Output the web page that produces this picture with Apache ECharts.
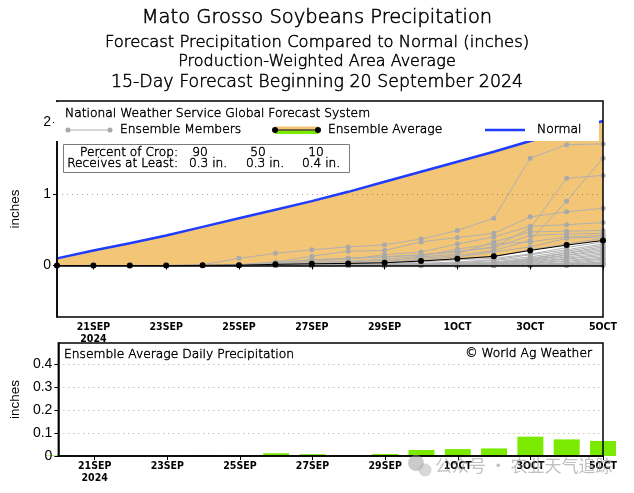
<!DOCTYPE html>
<html>
<head>
<meta charset="utf-8">
<script src="https://cdn.jsdelivr.net/npm/echarts@6/dist/echarts.min.js"></script>
<style>
html,body{margin:0;padding:0;background:#fff;}
#c{width:634px;height:493px;}
</style>
</head>
<body>
<div id="c"></div>
<script>
// ---------------- data ----------------
const dayIdx = [0,1,2,3,4,5,6,7,8,9,10,11,12,13,14,15];
const tickDays = [1,3,5,7,9,11,13,15];
const tickLabels = ['21SEP\n2024','23SEP','25SEP','27SEP','29SEP','1OCT','3OCT','5OCT'];
const topYTicks = [0,1,2];
const topYLabels = ['0','1','2'];
const botYTicks = [0,0.1,0.2,0.3,0.4];
const botYLabels = ['0','0.1','0.2','0.3','0.4'];

const normal = [0.10,0.21,0.31,0.42,0.54,0.66,0.78,0.90,1.03,1.17,1.31,1.45,1.59,1.74,1.88,2.02];
const ensAvg = [0,0,0,0,0.002,0.005,0.016,0.024,0.029,0.038,0.063,0.094,0.128,0.211,0.285,0.35];
const dailyAvg = [0.002,0,0,0,0.002,0.003,0.012,0.008,0.004,0.009,0.026,0.030,0.033,0.084,0.072,0.065];

const member01 = [0,0,0,0,0.01,0.10,0.17,0.22,0.26,0.29,0.37,0.49,0.66,1.50,1.69,1.70];
const member02 = [0,0,0,0,0,0.01,0.04,0.08,0.10,0.12,0.15,0.19,0.26,0.52,1.22,1.26];
const member03 = [0,0,0,0,0,0,0.01,0.03,0.05,0.07,0.10,0.14,0.21,0.35,0.90,1.50];
const member04 = [0,0,0,0,0,0.01,0.05,0.13,0.20,0.21,0.33,0.39,0.45,0.68,0.75,0.80];
const member05 = [0,0,0,0,0,0,0.02,0.06,0.09,0.15,0.19,0.30,0.40,0.55,0.57,0.60];
const member06 = [0,0,0,0,0,0,0,0.01,0.03,0.05,0.12,0.16,0.33,0.47,0.48,0.49];
const member07 = [0,0,0,0,0,0.01,0.04,0.08,0.10,0.12,0.15,0.20,0.25,0.42,0.44,0.45];
const member08 = [0,0,0,0,0,0,0.02,0.04,0.06,0.09,0.13,0.23,0.30,0.33,0.40,0.42];
const member09 = [0,0,0,0,0,0,0,0.01,0.02,0.04,0.08,0.12,0.19,0.26,0.38,0.40];
const member10 = [0,0,0,0,0,0,0.01,0.02,0.03,0.04,0.06,0.09,0.12,0.22,0.30,0.38];
const member11 = [0,0,0,0,0,0,0,0,0.01,0.02,0.05,0.08,0.10,0.16,0.25,0.33];
const member12 = [0,0,0,0,0,0,0,0.01,0.01,0.02,0.03,0.05,0.08,0.15,0.22,0.30];
const member13 = [0,0,0,0,0,0,0,0,0,0.01,0.02,0.04,0.07,0.12,0.20,0.28];
const member14 = [0,0,0,0,0,0,0,0,0.01,0.01,0.02,0.03,0.05,0.10,0.18,0.26];
const member15 = [0,0,0,0,0,0,0,0,0,0,0.01,0.02,0.04,0.09,0.17,0.24];
const member16 = [0,0,0,0,0,0,0,0,0,0.01,0.01,0.02,0.03,0.08,0.15,0.22];
const member17 = [0,0,0,0,0,0,0,0,0,0,0,0.01,0.03,0.07,0.14,0.20];
const member18 = [0,0,0,0,0,0,0,0,0,0,0.01,0.01,0.02,0.06,0.12,0.18];
const member19 = [0,0,0,0,0,0,0,0,0,0,0,0.01,0.02,0.05,0.10,0.16];
const member20 = [0,0,0,0,0,0,0,0,0,0,0,0,0.01,0.04,0.09,0.14];
const member21 = [0,0,0,0,0,0,0,0,0,0,0,0,0.01,0.03,0.07,0.12];
const member22 = [0,0,0,0,0,0,0,0,0,0,0,0,0,0.02,0.06,0.10];
const member23 = [0,0,0,0,0,0,0,0,0,0,0,0,0,0.01,0.04,0.09];
const member24 = [0,0,0,0,0,0,0,0,0,0,0,0,0,0.01,0.03,0.07];
const member25 = [0,0,0,0,0,0,0,0,0,0,0,0,0,0,0.02,0.05];
const member26 = [0,0,0,0,0,0,0,0,0,0,0,0,0,0.01,0.02,0.04];
const member27 = [0,0,0,0,0,0,0,0,0,0,0,0,0,0,0.01,0.03];
const member28 = [0,0,0,0,0,0,0,0,0,0,0,0,0,0,0.01,0.02];
const member29 = [0,0,0,0,0,0,0,0,0,0,0,0,0,0,0,0.01];
const member30 = [0,0,0,0,0,0,0,0,0,0,0,0,0,0,0,0];
const members = [member01,member02,member03,member04,member05,member06,member07,member08,member09,member10,
  member11,member12,member13,member14,member15,member16,member17,member18,member19,member20,
  member21,member22,member23,member24,member25,member26,member27,member28,member29,member30];

// ---------------- chart ----------------
const chart = echarts.init(document.getElementById('c'), null, {renderer:'canvas'});
const pairs = arr => dayIdx.map((d,i)=>[d,arr[i]]);
const FONT = 'DejaVu Sans';
const TW = '200';
const ORANGE = '#f3c677';
const GREEN = '#7aeb00';
const xLabelFmt = v => { const i = tickDays.indexOf(v); return i >= 0 ? tickLabels[i] : ''; };

const xAxisCommon = {
  type:'value', min:0, max:15, z:8,
  axisLine:{show:true, lineStyle:{color:'#000', width:1.5}},
  axisTick:{show:true, customValues:tickDays, length:4, lineStyle:{color:'#000', width:1}},
  axisLabel:{customValues:tickDays, formatter:xLabelFmt, color:'#000', fontFamily:'DejaVu Sans Condensed',
    fontWeight:'bold', fontSize:10.5, lineHeight:12, margin:4},
  splitLine:{show:false}
};

const series = [];
series.push({
  type:'line', name:'normalFill', xAxisIndex:0, yAxisIndex:0, data:pairs(normal),
  symbol:'none', lineStyle:{width:0, opacity:0}, areaStyle:{color:ORANGE, opacity:1, origin:'start'},
  silent:true, z:1, animation:false
});
series.push({
  type:'line', name:'avgFill', xAxisIndex:0, yAxisIndex:0, data:pairs(ensAvg),
  symbol:'none', lineStyle:{width:0, opacity:0}, areaStyle:{color:'#ffffff', opacity:1, origin:'start'},
  silent:true, z:1, animation:false,
  markLine:{silent:true, symbol:'none', label:{show:false}, animation:false,
    lineStyle:{color:'rgba(90,90,90,0.55)', type:[1,4], width:1},
    data:topYTicks.map(v=>({yAxis:v}))}
});
members.forEach((m,k)=>{
  series.push({
    type:'line', name:'m'+k, xAxisIndex:0, yAxisIndex:0, data:pairs(m),
    symbol:'circle', symbolSize:5, showSymbol:true,
    lineStyle:{color:'#b0b0b0', width:1}, itemStyle:{color:'#a9a9a9'}, silent:true, z:2, animation:false
  });
});
series.push({
  type:'line', name:'avg', xAxisIndex:0, yAxisIndex:0, data:pairs(ensAvg),
  symbol:'circle', symbolSize:6, showSymbol:true,
  lineStyle:{color:'#000', width:1}, itemStyle:{color:'#000'}, silent:true, z:4, animation:false
});
series.push({
  type:'line', name:'normal', xAxisIndex:0, yAxisIndex:0, data:pairs(normal),
  symbol:'none', lineStyle:{color:'#1f3cff', width:2.5}, silent:true, z:5, animation:false
});
series.push({
  type:'bar', name:'daily', xAxisIndex:1, yAxisIndex:1, data:pairs(dailyAvg),
  barWidth:26, itemStyle:{color:GREEN}, silent:true, z:2, animation:false,
  markLine:{silent:true, symbol:'none', label:{show:false}, animation:false,
    lineStyle:{color:'rgba(90,90,90,0.55)', type:[1,4], width:1},
    data:botYTicks.slice(1).map(v=>({yAxis:v}))}
});

const T = (x,y,text,size,align,sw) => ({
  type:'text', x:x, y:y, z:100,
  style:{text:text, fill:'#000', stroke:'#000', lineWidth:(sw===undefined?0.45:sw),
    font:`${TW} ${size}px "${FONT}"`, textAlign:align||'left', textVerticalAlign:'middle'}
});

const graphic = [
  T(317,18,'Mato Grosso Soybeans Precipitation',19.5,'center',0.55),
  T(317,43,'Forecast Precipitation Compared to Normal (inches)',16.4,'center',0.5),
  T(317,62,'Production-Weighted Area Average',16,'center',0.5),
  T(317,82,'15-Day Forecast Beginning 20 September 2024',17.4,'center',0.5),
  // legend box in top plot
  {type:'rect', z:90, shape:{x:54, y:102, width:545, height:39}, style:{fill:'#fff'}},
  T(65,114,'National Weather Service Global Forecast System',12.3,'left'),
  {type:'line', z:100, shape:{x1:68,y1:130,x2:110,y2:130}, style:{stroke:'#b0b0b0', lineWidth:1}},
  {type:'circle', z:100, shape:{cx:68,cy:130,r:2.5}, style:{fill:'#a9a9a9'}},
  {type:'circle', z:100, shape:{cx:110,cy:130,r:2.5}, style:{fill:'#a9a9a9'}},
  T(120,130,'Ensemble Members',12.3,'left'),
  {type:'rect', z:100, shape:{x:275,y:126.5,width:43,height:4}, style:{fill:ORANGE}},
  {type:'rect', z:100, shape:{x:275,y:130.5,width:43,height:3.5}, style:{fill:GREEN}},
  {type:'line', z:101, shape:{x1:275,y1:130,x2:318,y2:130}, style:{stroke:'#000', lineWidth:1.2}},
  {type:'circle', z:101, shape:{cx:275,cy:130,r:3}, style:{fill:'#000'}},
  {type:'circle', z:101, shape:{cx:318,cy:130,r:3}, style:{fill:'#000'}},
  T(328,130,'Ensemble Average',12.3,'left'),
  {type:'line', z:100, shape:{x1:485,y1:130,x2:525,y2:130}, style:{stroke:'#1f3cff', lineWidth:2.5}},
  T(537,130,'Normal',12.3,'left'),
  // percent box
  {type:'rect', z:95, shape:{x:63.5, y:144.5, width:286, height:28}, style:{fill:'#fff', stroke:'#7a7a7a', lineWidth:1}},
  T(178,153,'Percent of Crop:',12.2,'right'),
  T(200,153,'90',12.2,'center'),
  T(258,153,'50',12.2,'center'),
  T(316,153,'10',12.2,'center'),
  T(178,164,'Receives at Least:',12.2,'right'),
  T(208,164,'0.3 in.',12.2,'center'),
  T(265,164,'0.3 in.',12.2,'center'),
  T(321,164,'0.4 in.',12.2,'center'),
  // bottom panel
  T(64,355,'Ensemble Average Daily Precipitation',12.3,'left'),
  T(592,354,'\u00A9 World Ag Weather',12.3,'right'),
  // watermark
  {type:'circle', z:110, shape:{cx:416,cy:463,r:8}, style:{fill:'rgba(150,150,150,0.5)'}},
  {type:'circle', z:111, shape:{cx:425,cy:470,r:6.5}, style:{fill:'rgba(175,175,175,0.5)'}},
  {type:'text', x:435, y:466, z:110, style:{text:'公众号 · 农业天气追踪', fill:'rgba(140,140,140,0.55)',
    font:'17px "Noto Sans CJK SC"', textAlign:'left', textVerticalAlign:'middle'}}
];

chart.setOption({
  animation:false,
  backgroundColor:'#fff',
  grid:[
    {left:53, right:31, top:101, height:216, show:true, z:7, borderColor:'#000', borderWidth:1.5, backgroundColor:'transparent'},
    {left:53, right:31, top:343, height:113, show:true, z:7, borderColor:'#000', borderWidth:1.5, backgroundColor:'transparent'}
  ],
  xAxis:[
    Object.assign({gridIndex:0}, xAxisCommon),
    Object.assign({gridIndex:1}, xAxisCommon)
  ],
  yAxis:[
    {gridIndex:0, type:'value', min:-0.72, max:2.3, z:8,
     name:'inches', nameLocation:'middle', nameRotate:90, nameGap:35,
     nameTextStyle:{fontFamily:'Liberation Sans', fontSize:13.5, color:'#000'},
     axisLine:{show:true, lineStyle:{color:'#000', width:1.5}},
     axisTick:{show:true, customValues:topYTicks, length:4, lineStyle:{color:'#000'}},
     axisLabel:{customValues:topYTicks, formatter:v=>{const i=topYTicks.indexOf(v);return i>=0?topYLabels[i]:'';},
       fontFamily:'Liberation Sans', fontSize:14, color:'#000', margin:6},
     splitLine:{show:false}},
    {gridIndex:1, type:'value', min:0, max:0.49, z:8,
     name:'inches', nameLocation:'middle', nameRotate:90, nameGap:35,
     nameTextStyle:{fontFamily:'Liberation Sans', fontSize:13.5, color:'#000'},
     axisLine:{show:true, lineStyle:{color:'#000', width:1.5}},
     axisTick:{show:true, customValues:botYTicks, length:4, lineStyle:{color:'#000'}},
     axisLabel:{customValues:botYTicks, formatter:v=>{const i=botYTicks.findIndex(t=>Math.abs(t-v)<1e-9);return i>=0?botYLabels[i]:'';},
       fontFamily:'Liberation Sans', fontSize:14, color:'#000', margin:6},
     splitLine:{show:false}}
  ],
  series:series,
  graphic:graphic
});
</script>
</body>
</html>
